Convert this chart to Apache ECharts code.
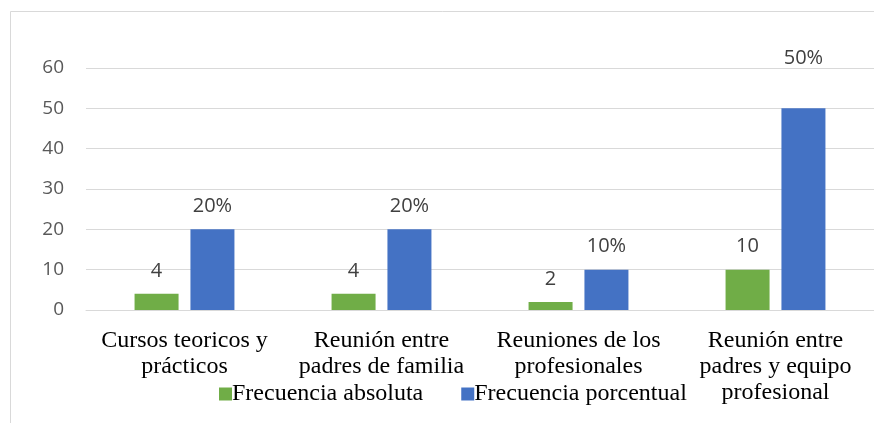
<!DOCTYPE html>
<html>
<head>
<meta charset="utf-8">
<script src="https://cdn.jsdelivr.net/npm/echarts@6/dist/echarts.min.js"></script>
<style>
    html, body { margin: 0; padding: 0; background: #fff; }
    #chart { width: 874px; height: 423px; }
</style>
</head>
<body>
<div id="chart"></div>
<script>
    // datos
    var categorias = [
        'Cursos teoricos y\nprácticos',
        'Reunión entre\npadres de familia',
        'Reuniones de los\nprofesionales',
        'Reunión entre\npadres y equipo\nprofesional'
    ];
    var frecAbsoluta = [4, 4, 2, 10];
    var frecPorcentual = [20, 20, 10, 50];
    var ticksY = [0, 10, 20, 30, 40, 50, 60];

    var myChart = echarts.init(document.getElementById('chart'));
    var serif = 'Liberation Serif';
    var sans = 'Open Sans';

    // la etiqueta del 50% esta desplazada hacia arriba en el original
    var datosPorc = frecPorcentual.map(function (v, i) {
        return i === 3 ? {value: v, label: {distance: 40}} : v;
    });

    var option = {
        animation: false,
        backgroundColor: '#fff',
        graphic: [{
            type: 'rect',
            shape: {x: 10.5, y: 11.5, width: 1000, height: 600},
            style: {fill: 'none', stroke: '#d9d9d9', lineWidth: 1},
            silent: true
        }],
        grid: {
            left: 86,
            right: 0,
            top: 68,
            bottom: 113
        },
        legend: {
            top: 377,
            left: 214,
            itemWidth: 13,
            itemHeight: 13,
            itemGap: 38,
            icon: 'rect',
            textStyle: {fontFamily: serif, fontSize: 24, color: '#000', padding: [0, 0, 0, -5]},
            data: ['Frecuencia absoluta', 'Frecuencia porcentual']
        },
        xAxis: {
            type: 'category',
            data: categorias,
            axisLine: {lineStyle: {color: '#d9d9d9'}},
            axisTick: {show: false},
            axisLabel: {
                fontFamily: serif,
                fontSize: 24,
                color: '#000',
                lineHeight: 26,
                margin: 18,
                interval: 0
            }
        },
        yAxis: {
            type: 'value',
            min: ticksY[0],
            max: ticksY[ticksY.length - 1],
            interval: 10,
            axisLine: {show: false},
            axisTick: {show: false},
            splitLine: {lineStyle: {color: '#d9d9d9'}},
            axisLabel: {fontFamily: sans, fontSize: 19, color: '#595959', margin: 22}
        },
        series: [
            {
                name: 'Frecuencia absoluta',
                type: 'bar',
                data: frecAbsoluta,
                barWidth: 44,
                barGap: '27%',
                itemStyle: {color: '#70ad47'},
                label: {
                    show: true,
                    position: 'top',
                    distance: 13,
                    fontFamily: sans,
                    fontSize: 20,
                    color: '#404040'
                }
            },
            {
                name: 'Frecuencia porcentual',
                type: 'bar',
                data: datosPorc,
                barWidth: 44,
                itemStyle: {color: '#4472c4'},
                label: {
                    show: true,
                    position: 'top',
                    distance: 13,
                    fontFamily: sans,
                    fontSize: 20,
                    color: '#404040',
                    formatter: '{c}%'
                }
            }
        ]
    };
    myChart.setOption(option);
</script>
</body>
</html>
